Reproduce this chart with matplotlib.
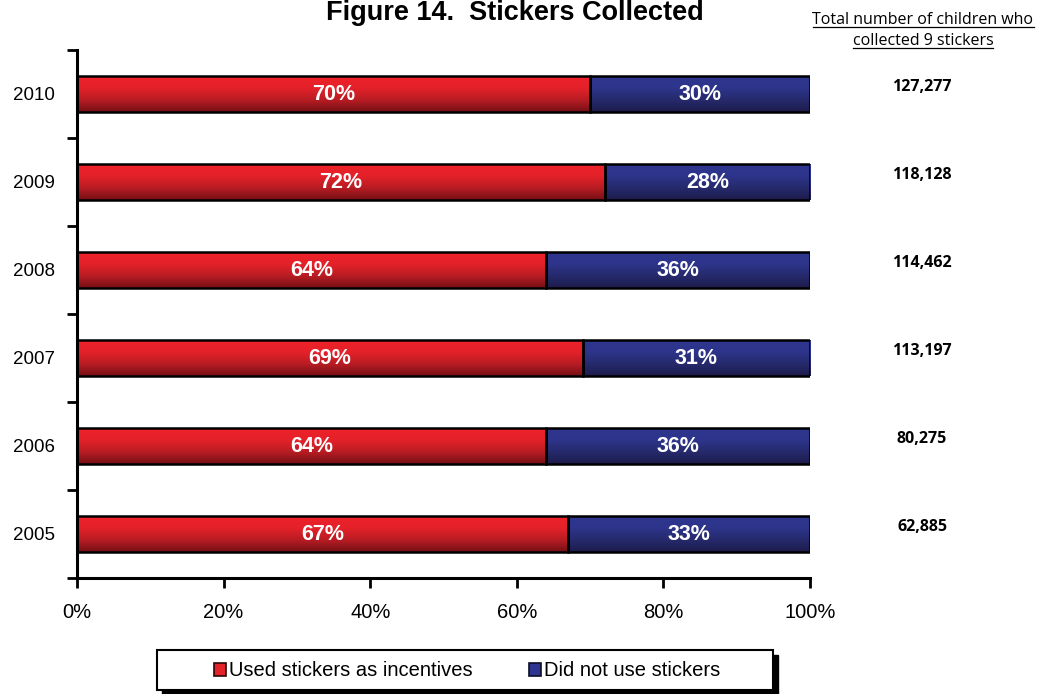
import numpy as np
import matplotlib.pyplot as plt
from matplotlib.colors import LinearSegmentedColormap
from matplotlib.patches import Patch, Rectangle
from matplotlib.lines import Line2D

# datos por año (porcentajes y total de niños con 9 stickers)
years = ['2005', '2006', '2007', '2008', '2009', '2010']
used = [67, 64, 69, 64, 72, 70]
not_used = [33, 36, 31, 36, 28, 30]
totals = [62885, 80275, 113197, 114462, 118128, 127277]
xticks = [0, 20, 40, 60, 80, 100]

plt.rcParams['font.family'] = ['Liberation Sans', 'DejaVu Sans']

W, H = 1049, 694
fig = plt.figure(figsize=(W / 100, H / 100), dpi=100)
ax = fig.add_axes([77 / W, 116 / H, 733 / W, 528 / H])

y = np.arange(len(years))
b1 = ax.barh(y, used, height=0.4, facecolor='none', edgecolor='black', linewidth=1.8, zorder=3)
b2 = ax.barh(y, not_used, left=used, height=0.4, facecolor='none', edgecolor='black', linewidth=1.8, zorder=3)

# degradado vertical dentro de cada barra
rojo = LinearSegmentedColormap.from_list('rojo', ['#761016', '#b81c23', '#e4212a', '#ee2229'])
azul = LinearSegmentedColormap.from_list('azul', ['#1d1c4c', '#262a6c', '#2d348a', '#2f3690'])
grad = np.linspace(0, 1, 64).reshape(-1, 1)


def rellenar(barras, cmap):
    for p in barras:
        x0, y0 = p.get_x(), p.get_y()
        ax.imshow(grad, cmap=cmap, aspect='auto', origin='lower', interpolation='bilinear',
                  extent=(x0, x0 + p.get_width(), y0, y0 + p.get_height()), zorder=2)


rellenar(b1, rojo)
rellenar(b2, azul)

for i in range(len(years)):
    ax.text(used[i] / 2, y[i], f'{used[i]}%', ha='center', va='center', color='white',
            fontsize=15.5, fontweight='bold', zorder=4)
    ax.text(used[i] + not_used[i] / 2, y[i], f'{not_used[i]}%', ha='center', va='center',
            color='white', fontsize=15.5, fontweight='bold', zorder=4)
    ax.text((922 - 77) / 733, y[i] + 0.085, f'{totals[i]:,}', transform=ax.get_yaxis_transform(),
            ha='center', va='center', fontsize=11.5, fontweight='bold', family='Open Sans')

ax.set_xlim(0, 100)
ax.set_ylim(-0.5, len(years) - 0.5)

ax.set_xticks(xticks)
ax.set_xticklabels([f'{v}%' for v in xticks])
ax.tick_params(axis='x', direction='out', length=7, width=2, labelsize=14.5, pad=11)
ax.set_yticks(y)
ax.set_yticklabels(years)
ax.tick_params(axis='y', which='major', length=0, pad=16, labelsize=13.5)
ax.set_yticks(np.arange(-0.5, len(years), 1), minor=True)
ax.tick_params(axis='y', which='minor', direction='out', length=7, width=2)

for s in ['top', 'right']:
    ax.spines[s].set_visible(False)
for s in ['left', 'bottom']:
    ax.spines[s].set_linewidth(2.2)

# titulo pegado al borde superior
fig.text(515 / W, 1 - 0.5 / H, 'Figure 14.  Stickers Collected', ha='center', va='top',
         fontsize=19.5, fontweight='bold')

# encabezado de la columna derecha, subrayado
enc = []
for txt, base in [('Total number of children who', 24), ('collected 9 stickers', 45)]:
    t = fig.text(923 / W, 1 - base / H, txt, ha='center', va='baseline', fontsize=11.5,
                 family='Open Sans')
    enc.append((t, base))

fig.canvas.draw()
rend = fig.canvas.get_renderer()
for t, base in enc:
    bb = t.get_window_extent(rend)
    yl = 1 - (base + 3) / H
    fig.add_artist(Line2D([bb.x0 / W, bb.x1 / W], [yl, yl], transform=fig.transFigure,
                          color='black', linewidth=0.9))

# recuadro de la leyenda con sombra negra
lx, ly, lw, lh = 157, 650, 616, 40
fig.add_artist(Rectangle(((lx + 5) / W, 1 - (ly + lh + 5) / H), lw / W, lh / H,
                         transform=fig.transFigure, facecolor='black', edgecolor='black', zorder=5))
fig.add_artist(Rectangle((lx / W, 1 - (ly + lh) / H), lw / W, lh / H, transform=fig.transFigure,
                         facecolor='white', edgecolor='black', linewidth=1.5, zorder=6))

handles = [Patch(facecolor='#e3222a', edgecolor='#2a0808', linewidth=1.2),
           Patch(facecolor='#2e3590', edgecolor='#0d0d25', linewidth=1.2)]
leg = fig.legend(handles, ['Used stickers as incentives', 'Did not use stickers'], loc='center',
                 bbox_to_anchor=(467 / W, 1 - 671 / H), ncol=2, frameon=False, fontsize=14.5,
                 handlelength=0.6, handleheight=0.6, handletextpad=0.15, columnspacing=2.8)
leg.set_zorder(7)

fig.savefig('out.png', dpi=100)
